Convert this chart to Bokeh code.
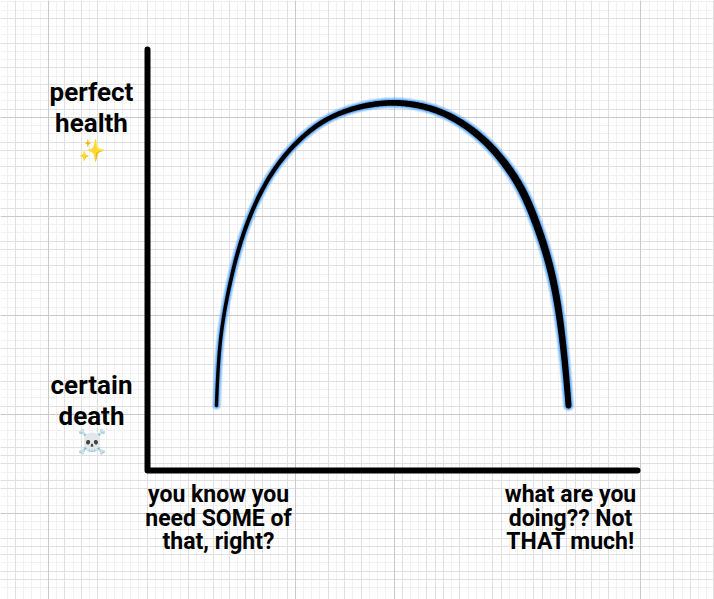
import numpy as np
from bokeh.core.properties import value
from bokeh.embed import file_html
from bokeh.models import FixedTicker, Grid, Range1d
from bokeh.plotting import figure
from bokeh.resources import INLINE

# Curve (1 unit = 1 px, origin at the axes' corner)
dose = [69, 70, 72.5, 76, 84, 92, 103, 115, 128, 147, 165, 181, 206, 230, 245,
        263, 286, 306, 326, 346, 363, 376, 385, 394, 401, 407, 412, 416, 419, 421]
health = [65, 95, 128, 156, 195, 226, 257, 282, 304, 327, 342, 353, 363, 367, 368,
          367, 362, 353, 340, 322, 300, 279, 257, 233, 210, 185, 156, 122, 92, 65]
stroke = [3.4, 3.4, 3.5, 3.6, 3.8, 4, 4.1, 4.2, 4.3, 4.5, 4.7, 4.9, 5.2, 5.6, 5.8,
          6, 6.2, 6.6, 7, 7.3, 7.6, 7.8, 7.8, 7.6, 7.4, 7.2, 6.8, 6.5, 6.2, 6]

x_labels = [["you know you", "need SOME of", "that, right?"],
            ["what are you", "doing?? Not", "THAT much!"]]
x_label_at = [71, 423]
y_labels = [["perfect", "health"], ["certain", "death"]]
y_label_top = [368, 75]
y_emoji = ["\u2728", "\u2620\ufe0f"]
y_emoji_at = [320, 29]

# Background graph paper: line numbers on an 8.23 px / 8.25 px lattice
v_medium = [-34, -28, -26, -24, -18, -13, -10, -8, -6, -5, -4, -1, 4, 6, 8, 13, 16, 17, 18,
            20, 24, 25, 29, 30, 33, 34, 36, 38, 46, 48, 50.8]
v_major = [-30, 0, 12, 42]
h_medium = [-12, -9, -6, -4, -1, 3, 4, 6, 8, 11, 15, 16, 18, 20, 28, 30, 32, 35, 40, 41, 42,
            44, 45, 51, 52, 53, 55, 56]
h_major = [0, 12, 24, 36, 48]

X0, X1, Y0, Y1 = -147, 567, -129, 470
AXIS_TOP, AXIS_END = 421, 490
FONT = value("Roboto")

p = figure(width=714, height=599, output_backend="svg", toolbar_location=None,
           x_range=Range1d(X0, X1), y_range=Range1d(Y0, Y1),
           x_axis_type=None, y_axis_type=None, min_border=0,
           outline_line_color=None, background_fill_color="white")
p.grid.visible = False


def vpos(k):
    return float(np.floor(294.3 + 8.23 * k)) + 0.5 - 147


def hpos(k):
    return 470 - (float(np.floor(116.3 + 8.25 * k)) + 0.5)


layers = [("#f1f1f1", None, None), ("#e0e0e0", v_medium, h_medium), ("#c9c9c9", v_major, h_major)]
for colour, vs, hs in layers:
    vk = list(range(-36, 52)) if vs is None else vs
    hk = list(range(-15, 58)) if hs is None else hs
    p.add_layout(Grid(dimension=0, ticker=FixedTicker(ticks=[vpos(k) for k in vk]),
                      grid_line_color=colour, grid_line_width=1))
    p.add_layout(Grid(dimension=1, ticker=FixedTicker(ticks=[hpos(k) for k in hk]),
                      grid_line_color=colour, grid_line_width=1))


def smooth(values, n=14):
    """Catmull-Rom sampling, then a soft pass, only to draw a round stroke through the readings."""
    v = np.asarray(values, float)
    v = np.concatenate([[2 * v[0] - v[1]], v, [2 * v[-1] - v[-2]]])
    out = []
    for i in range(1, len(v) - 2):
        t = np.linspace(0, 1, n, endpoint=False)
        a, b, c, d = v[i - 1], v[i], v[i + 1], v[i + 2]
        out.append(0.5 * (2 * b + (c - a) * t + (2 * a - 5 * b + 4 * c - d) * t ** 2
                          + (3 * b - a - 3 * c + d) * t ** 3))
    out.append(v[-2:-1])
    s = np.concatenate(out)
    w = np.hanning(2 * 24 + 1)
    w /= w.sum()
    pad = 24
    left = 2 * s[0] - s[1:pad + 1][::-1]
    right = 2 * s[-1] - s[-pad - 1:-1][::-1]
    return np.convolve(np.concatenate([left, s, right]), w, mode="valid")


sx, sy, sw = smooth(dose), smooth(health), smooth(stroke)


def ribbon(extra):
    dx, dy = np.gradient(sx), np.gradient(sy)
    ln = np.hypot(dx, dy)
    nx, ny = -dy / ln, dx / ln
    hw = sw / 2 + extra
    lx, ly = sx + nx * hw, sy + ny * hw
    rx, ry = sx - nx * hw, sy - ny * hw
    a0 = np.arctan2(ny[0], nx[0])
    a1 = np.arctan2(ny[-1], nx[-1])
    ang = np.linspace(0, np.pi, 12)
    cap_end_x = sx[-1] + hw[-1] * np.cos(a1 - ang)
    cap_end_y = sy[-1] + hw[-1] * np.sin(a1 - ang)
    cap_start_x = sx[0] + hw[0] * np.cos(a0 + np.pi - ang)
    cap_start_y = sy[0] + hw[0] * np.sin(a0 + np.pi - ang)
    return (np.concatenate([lx, cap_end_x, rx[::-1], cap_start_x]),
            np.concatenate([ly, cap_end_y, ry[::-1], cap_start_y]))


for extra, alpha in [(3.2, 0.16), (2.4, 0.25), (1.6, 0.4), (0.8, 0.6)]:
    gx, gy = ribbon(extra)
    p.patch(gx, gy, fill_color="#4da3ff", fill_alpha=alpha, line_color=None)
bx, by = ribbon(0)
p.patch(bx, by, fill_color="black", line_color=None)

# Axes
p.line([0, 0, AXIS_END], [AXIS_TOP, 0, 0], line_color="black", line_width=6,
       line_join="round", line_cap="round")

# Texts
kw = dict(text_font=FONT, text_color="black", text_font_style="bold",
          text_align="center", text_baseline="alphabetic")
BASE_FIX = 11
for rows, cx in zip(x_labels, x_label_at):
    for i, t in enumerate(rows):
        p.text([cx], [-35 - 23.5 * i + BASE_FIX], text=[t], text_font_size="23px", **kw)
for rows, top in zip(y_labels, y_label_top):
    for i, t in enumerate(rows):
        p.text([-56], [top - 31.5 * i + BASE_FIX], text=[t], text_font_size="26px", **kw)
p.text([-56], [y_emoji_at[0]], text=[y_emoji[0]], text_font_size="22px", text_align="center",
       text_baseline="middle", text_color="black")
p.text([-56], [y_emoji_at[1]], text=[y_emoji[1]], text_font_size="24px", text_align="center",
       text_baseline="middle", text_color="black")

open("out.html", "w").write(file_html(p, INLINE))
